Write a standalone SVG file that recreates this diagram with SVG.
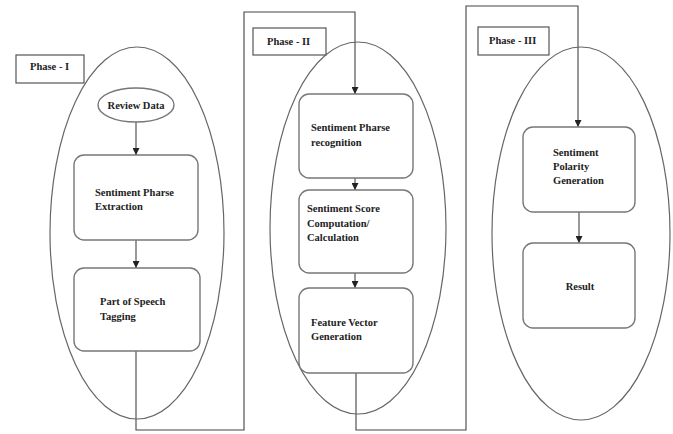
<svg xmlns="http://www.w3.org/2000/svg" width="673" height="434" viewBox="0 0 673 434">
<defs>
<marker id="ah" viewBox="0 0 10 10" refX="10" refY="5" markerWidth="7" markerHeight="7" orient="auto" markerUnits="userSpaceOnUse">
<path d="M0,0 L10,5 L0,10 z" fill="#222"/>
</marker>
<style>
.ph{fill:none;stroke:#666;stroke-width:1.2}
.lbl{fill:#fff;stroke:#555;stroke-width:1.2}
.box{fill:#fff;stroke:#777;stroke-width:1.4}
.con{fill:none;stroke:#555;stroke-width:1.2}
.arr{fill:none;stroke:#444;stroke-width:1.1;marker-end:url(#ah)}
text{font-family:"Liberation Serif","Times New Roman",serif;font-weight:bold;font-size:10.5px;fill:#222}
</style>
</defs>
<rect width="673" height="434" fill="#fff"/>

<g id="connectors">
<polyline class="arr" points="136,122 136,155"/>
<polyline class="arr" points="136,240 136,268"/>
<polyline class="arr" points="136,351 136,430 244,430 244,12 355,12 355,94"/>
<polyline class="arr" points="355,178 355,190"/>
<polyline class="arr" points="355,273 355,288"/>
<polyline class="arr" points="356,373 356,430 466,430 466,6 578,6 578,127"/>
<polyline class="arr" points="579,212 579,243"/>
</g>

<g id="phase1">
<ellipse class="ph" cx="137" cy="233" rx="87" ry="186"/>
<rect class="lbl" x="16" y="55" width="68" height="28"/>
<text x="30" y="70">Phase - I</text>
</g>
<g id="phase2">
<ellipse class="ph" cx="358" cy="228" rx="88" ry="186"/>
<rect class="lbl" x="253" y="28" width="73" height="27"/>
<text x="267" y="45">Phase - II</text>
</g>
<g id="phase3">
<ellipse class="ph" cx="581" cy="233.5" rx="89" ry="186.5"/>
<rect class="lbl" x="478" y="27" width="71" height="28"/>
<text x="489" y="44">Phase - III</text>
</g>

<g id="review-data">
<ellipse class="box" cx="136" cy="105" rx="38" ry="17"/>
<text x="136" y="109" text-anchor="middle">Review Data</text>
</g>
<g id="extraction">
<rect class="box" x="74" y="155" width="124" height="85" rx="10"/>
<text x="95" y="196">Sentiment Pharse</text>
<text x="95" y="210">Extraction</text>
</g>
<g id="pos-tagging">
<rect class="box" x="74" y="268" width="126" height="83" rx="10"/>
<text x="100" y="305">Part of Speech</text>
<text x="100" y="320">Tagging</text>
</g>

<g id="recognition">
<rect class="box" x="299" y="94" width="114" height="84" rx="10"/>
<text x="311" y="131">Sentiment Pharse</text>
<text x="311" y="146">recognition</text>
</g>
<g id="score">
<rect class="box" x="299" y="190" width="114" height="83" rx="10"/>
<text x="307" y="212">Sentiment Score</text>
<text x="307" y="227">Computation/</text>
<text x="307" y="241">Calculation</text>
</g>
<g id="feature-vector">
<rect class="box" x="299" y="288" width="114" height="85" rx="10"/>
<text x="311" y="326">Feature Vector</text>
<text x="311" y="340">Generation</text>
</g>

<g id="polarity">
<rect class="box" x="523" y="127" width="112" height="85" rx="10"/>
<text x="553" y="156">Sentiment</text>
<text x="553" y="170">Polarity</text>
<text x="553" y="184">Generation</text>
</g>
<g id="result">
<rect class="box" x="523" y="243" width="112" height="85" rx="10"/>
<text x="580" y="290" text-anchor="middle">Result</text>
</g>
</svg>
